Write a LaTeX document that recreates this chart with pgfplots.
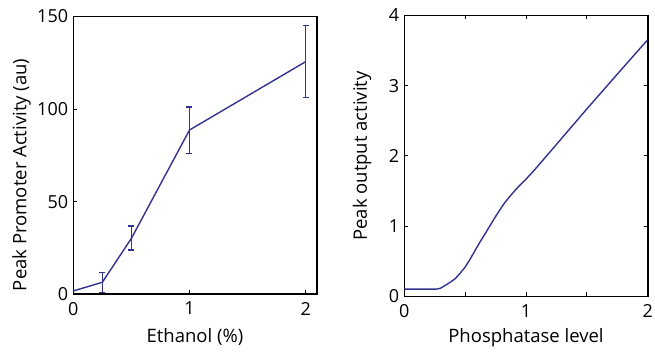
\documentclass[border=0pt]{standalone}
\usepackage{pgfplots}
\pgfplotsset{compat=1.18}
\usepackage{fontspec}
\setmainfont{Open Sans}
\definecolor{lineblue}{RGB}{50,50,145}
\begin{document}
\fontsize{18}{21}\selectfont
\begin{tikzpicture}
\useasboundingbox (0,0) rectangle (655pt,352pt);
\pgfplotsset{
  every axis/.append style={
    scale only axis,
    axis line style={line width=1.6pt},
    tick style={line width=1pt, black},
    tick align=inside,
    major tick length=4pt,
    /pgf/number format/assume math mode=true,
    yticklabel style={inner sep=0pt, xshift=-5pt, font=\fontsize{18}{21}\selectfont},
    xticklabel style={inner sep=0pt, yshift=-7.5pt, font=\fontsize{18}{21}\selectfont},
    label style={font=\fontsize{18.5}{21}\selectfont},
  },
  errbar/.style={color=lineblue, line width=1.3pt, mark=-, mark size=3pt,
    mark options={solid, line width=1.3pt, color=lineblue}},
}
% Left panel
\begin{axis}[
  at={(73.3pt,57.7pt)}, anchor=south west,
  width=243.4pt, height=277.8pt,
  xmin=0, xmax=2.095, ymin=0, ymax=150,
  xtick={0,1,2}, ytick={0,50,100,150},
  xtick pos=left, ytick pos=left,
  xlabel={Ethanol (\%)},
  ylabel={Peak Promoter Activity (au)},
  xlabel style={at={(axis description cs:0.5,0)}, anchor=base, yshift=-48.7pt},
  ylabel style={at={([xshift=-46.8pt]axis description cs:0,0.43)}, anchor=base},
]
\addplot[color=lineblue, line width=1.4pt, mark=none]
  coordinates {(0,1.8) (0.25,6.5) (0.5,30.2) (1,88.7) (2,125.6)};
% error bars (lower, upper)
\addplot[errbar] coordinates {(0.25,1.1) (0.25,11.9)};
\addplot[errbar] coordinates {(0.5,23.9) (0.5,36.9)};
\addplot[errbar] coordinates {(1,75.9) (1,101.1)};
\addplot[errbar] coordinates {(2,106.4) (2,145.2)};
\end{axis}
% Right panel
\begin{axis}[
  at={(404.3pt,55.5pt)}, anchor=south west,
  width=243.4pt, height=281pt,
  xmin=0, xmax=2, ymin=0, ymax=4,
  xtick={0,0.5,1,1.5,2}, xticklabels={0,,1,,2},
  ytick={0,1,2,3,4},
  xlabel={Phosphatase level},
  ylabel={Peak output activity},
  xlabel style={at={(axis description cs:0.5,0)}, anchor=base, yshift=-46.5pt},
  ylabel style={at={([xshift=-37.5pt]axis description cs:0,0.5)}, anchor=base},
]
\addplot[lineblue, line width=1.4pt, mark=none, line join=round] table {
x y
0 0.104
0.25 0.104
0.275 0.108
0.30 0.12
0.334 0.156
0.375 0.20
0.416 0.25
0.458 0.33
0.499 0.416
0.54 0.53
0.58 0.65
0.62 0.77
0.663 0.89
0.705 1.01
0.745 1.125
0.786 1.235
0.827 1.34
0.87 1.43
0.91 1.51
0.95 1.585
0.992 1.655
1.074 1.81
1.238 2.14
1.5 2.67
1.75 3.165
2.0 3.655
};
\end{axis}
\end{tikzpicture}
\end{document}
